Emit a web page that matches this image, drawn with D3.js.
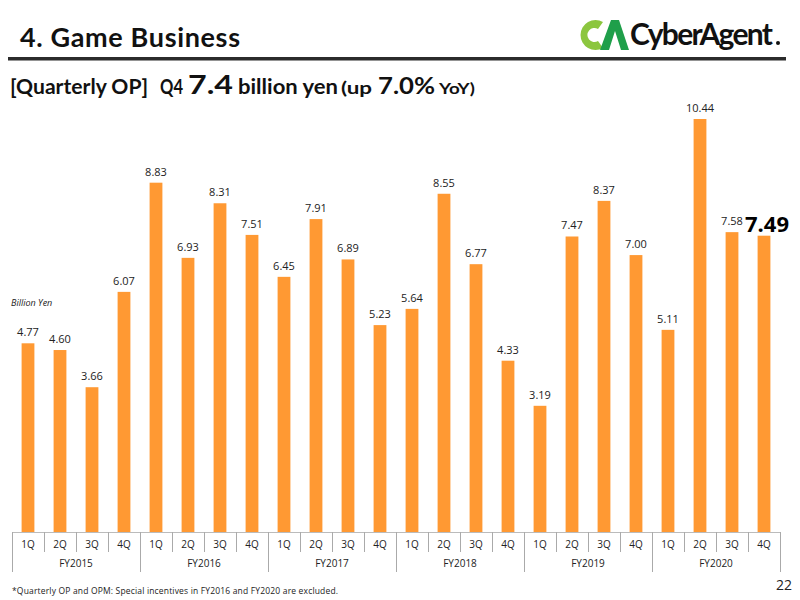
<!DOCTYPE html>
<html>
<head>
<meta charset="utf-8">
<script src="https://cdn.jsdelivr.net/npm/d3@7"></script>
<style>
  body { margin: 0; background: #fff; }
  svg { display: block; font-family: "Open Sans", "DejaVu Sans", sans-serif; }
</style>
</head>
<body>
<div id="chart"></div>
<script>
// Quarterly operating profit, billion yen
const years = ['FY2015', 'FY2016', 'FY2017', 'FY2018', 'FY2019', 'FY2020'];
const quarters = ['1Q', '2Q', '3Q', '4Q'];
const values = [
    4.77, 4.60, 3.66, 6.07,
    8.83, 6.93, 8.31, 7.51,
    6.45, 7.91, 6.89, 5.23,
    5.64, 8.55, 6.77, 4.33,
    3.19, 7.47, 8.37, 7.00,
    5.11, 10.44, 7.58, 7.49
];

const width = 800, height = 600;
const svg = d3.select('#chart').append('svg')
    .attr('width', width)
    .attr('height', height);

// header
svg.append('text')
    .attr('x', 20).attr('y', 47)
    .style('font-family', 'Lato, "Open Sans", sans-serif')
    .style('font-weight', 'bold')
    .style('font-size', '27px')
    .attr('fill', '#111')
    .attr('textLength', 220)
    .text('4. Game Business');

svg.append('rect')
    .attr('x', 8).attr('y', 57)
    .attr('width', 778).attr('height', 3.5)
    .attr('fill', '#2b2b2b');

// logo
const logo = svg.append('g').attr('transform', 'translate(576,17)');
logo.append('path')
    .attr('d', 'M27,5 A15,15 0 1,0 27,31 L22,24 A7,7 0 1,1 22,12 Z')
    .attr('fill', '#8cc63f');
logo.append('path')
    .attr('d', 'M24,33 L35,3 L43,3 L53,33 L45,33 L39,14 L33,33 Z')
    .attr('fill', '#1f9f4a');
logo.append('text')
    .attr('x', 54).attr('y', 28)
    .style('font-family', 'Lato, sans-serif')
    .style('font-weight', 'bold')
    .style('font-size', '30px')
    .attr('fill', '#111')
    .attr('textLength', 143)
    .text('CyberAgent');
logo.append('circle').attr('cx', 202).attr('cy', 26).attr('r', 2).attr('fill', '#111');

// subtitle: [text, left, right, size]
const subParts = [
    ['[Quarterly OP]', 10, 148, 20],
    ['Q4', 160, 183, 20],
    ['7.4', 188, 233, 27],
    ['billion yen', 238, 338, 20],
    ['(up', 341, 372, 17],
    ['7.0%', 378, 435, 23],
    ['YoY)', 439, 475, 16]
];
svg.append('g').selectAll('text')
    .data(subParts)
    .join('text')
    .attr('x', d => d[0])
    .attr('x', d => d[1])
    .attr('y', 94)
    .attr('textLength', d => d[2] - d[1])
    .attr('lengthAdjust', 'spacingAndGlyphs')
    .style('font-family', 'Lato, sans-serif')
    .style('font-weight', 'bold')
    .style('font-size', d => d[3] + 'px')
    .attr('fill', '#111')
    .text(d => d[0]);

// scales
const labels = [];
years.forEach(y => quarters.forEach(q => labels.push(y + ' ' + q)));

const x = d3.scaleBand()
    .domain(labels)
    .range([12, 780])
    .paddingInner(0.6)
    .paddingOuter(0.3);

const yScale = d3.scaleLinear()
    .domain([0, 10.44])
    .range([532, 119]);

const last = values.length - 1;

// bars
svg.append('g').selectAll('rect')
    .data(values)
    .join('rect')
    .attr('x', (d, i) => x(labels[i]))
    .attr('y', d => yScale(d))
    .attr('width', x.bandwidth())
    .attr('height', d => yScale(0) - yScale(d))
    .attr('fill', '#ff9933');

// value labels
svg.append('g').selectAll('text')
    .data(values)
    .join('text')
    .attr('x', (d, i) => x(labels[i]) + x.bandwidth() / 2 + (i === last ? 3 : 0))
    .attr('y', (d, i) => yScale(d) - (i === last ? 4 : 7))
    .attr('text-anchor', 'middle')
    .style('font-size', (d, i) => i === last ? '22px' : '11px')
    .style('font-weight', (d, i) => i === last ? 'bold' : 'normal')
    .attr('fill', (d, i) => i === last ? '#000' : '#222')
    .text(d => d.toFixed(2));

svg.append('text')
    .attr('x', 11).attr('y', 306)
    .style('font-size', '9px')
    .style('font-style', 'italic')
    .attr('fill', '#222')
    .text('Billion Yen');

// category axis
const step = x.step();
const axis = svg.append('g');
axis.append('line')
    .attr('x1', 12).attr('x2', 780)
    .attr('y1', 532.5).attr('y2', 532.5)
    .attr('stroke', '#bbb');

d3.range(labels.length + 1).forEach(i => {
    const xp = Math.round(12 + i * step) + 0.5;
    axis.append('line')
        .attr('x1', xp).attr('x2', xp)
        .attr('y1', 532).attr('y2', i % 4 === 0 ? 572 : 552)
        .attr('stroke', '#aaa');
});

axis.selectAll('text.q')
    .data(labels)
    .join('text')
    .attr('class', 'q')
    .attr('x', d => x(d) + x.bandwidth() / 2)
    .attr('y', 548)
    .attr('text-anchor', 'middle')
    .style('font-size', '10px')
    .attr('fill', '#222')
    .text(d => d.split(' ')[1]);

axis.selectAll('text.y')
    .data(years)
    .join('text')
    .attr('class', 'y')
    .attr('x', (d, i) => 12 + (i * 4 + 2) * step)
    .attr('y', 567)
    .attr('text-anchor', 'middle')
    .style('font-size', '10px')
    .attr('fill', '#222')
    .text(d => d);

// footer
svg.append('text')
    .attr('x', 12).attr('y', 594)
    .style('font-size', '8.5px')
    .attr('fill', '#222')
    .attr('textLength', 326)
    .text('*Quarterly OP and OPM: Special incentives in FY2016 and FY2020 are excluded.');

svg.append('text')
    .attr('x', 792).attr('y', 590)
    .attr('text-anchor', 'end')
    .style('font-size', '14px')
    .attr('fill', '#222')
    .text('22');
</script>
</body>
</html>
